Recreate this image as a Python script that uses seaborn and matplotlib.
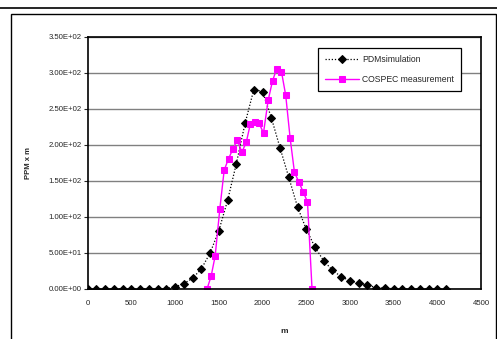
import pandas as pd
import matplotlib.pyplot as plt
import seaborn as sns
from matplotlib.patches import Rectangle
from matplotlib.lines import Line2D
from matplotlib.ticker import FuncFormatter

# PDM simulation (every 100 m)
pdm_m = list(range(0, 4200, 100))
pdm_ppm = [0, 0, 0, 0, 0, 0, 0, 0, 0, 0.5,
           3, 7.5, 15, 28, 50, 81, 123, 174, 230, 277,
           274, 238, 196, 155, 114, 83, 58, 39, 26, 17,
           11.5, 8.5, 5.5, 2, 1, 0.5, 0, 0, 0, 0,
           0, 0]

# COSPEC measurement
cos_m = [1365, 1412, 1458, 1511, 1561, 1611, 1660, 1710, 1764, 1814,
         1860, 1909, 1959, 2011, 2064, 2114, 2162, 2216, 2265, 2315,
         2365, 2414, 2464, 2514, 2566]
cos_ppm = [0, 18, 46, 111, 165, 181, 194, 207, 190, 204,
           229, 232, 230, 217, 262, 289, 306, 302, 269, 210,
           162, 149, 135, 121, 0]

df_pdm = pd.DataFrame({"m": pdm_m, "ppm": pdm_ppm})
df_cos = pd.DataFrame({"m": cos_m, "ppm": cos_ppm})

sns.set_style("white")
plt.rcParams["font.family"] = ["Liberation Sans", "DejaVu Sans"]

fig = plt.figure(figsize=(4.97, 3.39), dpi=100)
ax = fig.add_axes([0.1765, 0.1475, 0.968 - 0.1765, 0.891 - 0.1475])

# outer frame like the original document
fig.add_artist(Line2D([0, 1], [1 - 7.5 / 339, 1 - 7.5 / 339], color="black", lw=1.2,
                      transform=fig.transFigure))
fig.add_artist(Rectangle((11 / 497, -0.05), (496 - 11) / 497, 1.05 - 14 / 339,
                         transform=fig.transFigure, fill=False, ec="black", lw=1.0))

sns.lineplot(data=df_pdm, x="m", y="ppm", ax=ax, color="black", linestyle=(0, (1, 1.5)),
             lw=0.9, marker="D", markersize=4, markeredgecolor="black",
             label="PDMsimulation")
sns.lineplot(data=df_cos, x="m", y="ppm", ax=ax, color="#ff00ff", linestyle="-",
             lw=1.0, marker="s", markersize=4.5, markeredgecolor="#ff00ff",
             label="COSPEC measurement")

ax.set_xlim(0, 4500)
ax.set_ylim(0, 350)
ax.set_xticks(range(0, 5000, 500))
ax.set_yticks(range(0, 400, 50))
ax.yaxis.set_major_formatter(FuncFormatter(lambda v, p: f"{v:.2E}"))
ax.yaxis.grid(True, color="#808080", lw=1.0)
ax.set_axisbelow(True)
for s in ax.spines.values():
    s.set_color("black")
    s.set_linewidth(1.2)
ax.tick_params(axis="y", which="major", direction="out", length=3, width=0.8,
               labelsize=5.6, pad=1.5, left=True)
ax.tick_params(axis="x", which="major", length=0, labelsize=5.6, pad=8)

ax.set_xlabel("m", fontsize=6, fontweight="bold", labelpad=15)
ax.set_ylabel("PPM x m", fontsize=5.5, fontweight="bold", labelpad=12)

leg = ax.legend(loc="upper left", bbox_to_anchor=(0.585, 0.956), fontsize=6.2,
                frameon=True, fancybox=False, edgecolor="black", framealpha=1,
                handlelength=4.0, borderpad=0.8, labelspacing=1.25, handletextpad=0.3,
                borderaxespad=0)
leg.get_frame().set_linewidth(0.9)

plt.savefig("out.png", dpi=100)
